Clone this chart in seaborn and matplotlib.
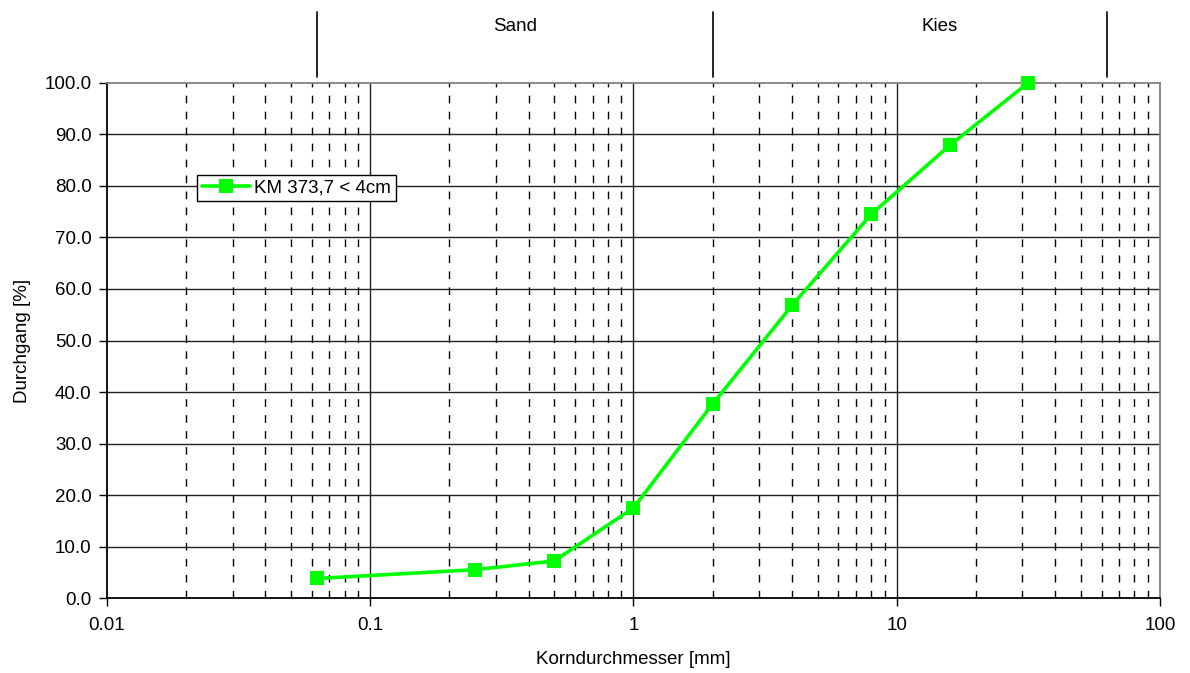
import numpy as np
import pandas as pd
import matplotlib
matplotlib.use("Agg")
import matplotlib.pyplot as plt
import matplotlib.transforms as mtransforms
from matplotlib.ticker import FixedLocator, FuncFormatter, NullLocator
import seaborn as sns

# Data
grain_size = [0.063, 0.25, 0.5, 1.0, 2.0, 4.0, 8.0, 16.0, 31.5]
passing = [3.8, 5.5, 7.2, 17.5, 37.7, 56.8, 74.5, 88.0, 100.0]
series_name = "KM 373,7 < 4cm"
class_bounds = [0.063, 2.0, 63.0]
class_labels = ["Sand", "Kies"]
class_label_x = [0.355, 14.5]
x_ticks = [0.01, 0.1, 1, 10, 100]
x_tick_labels = ["0.01", "0.1", "1", "10", "100"]
y_ticks = [0, 10, 20, 30, 40, 50, 60, 70, 80, 90, 100]

sns.set_style("white")
plt.rcParams['font.family'] = ['Liberation Sans', 'DejaVu Sans']
plt.rcParams['text.color'] = 'black'
plt.rcParams['axes.labelcolor'] = 'black'
plt.rcParams['xtick.color'] = 'black'
plt.rcParams['ytick.color'] = 'black'

FS = 13.5

df = pd.DataFrame({"d": grain_size, "p": passing, "s": series_name})

fig = plt.figure(figsize=(11.9, 6.73), dpi=100)
ax = fig.add_axes([0.0899, 0.1114, 0.8849, 0.7653])

ax.set_xscale("log")
ax.set_xlim(0.01, 100)
ax.set_ylim(0, 100)

# minor dashed grid
minor = [m * 10.0 ** e for e in range(-2, 2) for m in range(2, 10)]
for xv in minor:
    ax.axvline(xv, color="black", lw=1.0, ls=(0, (5.5, 6)), zorder=1)
for xv in [0.1, 1, 10]:
    ax.axvline(xv, color="#202020", lw=1.0, zorder=1)
for yv in y_ticks[1:-1]:
    ax.axhline(yv, color="#202020", lw=1.0, zorder=1)

sns.lineplot(data=df, x="d", y="p", hue="s", palette=["#00FF00"], marker="s",
             markersize=10, markeredgewidth=0, linewidth=2.6, ax=ax, zorder=3,
             estimator=None, sort=False, clip_on=False)

ax.xaxis.set_major_locator(FixedLocator(x_ticks))
ax.xaxis.set_major_formatter(FuncFormatter(lambda v, p: x_tick_labels[x_ticks.index(v)] if v in x_ticks else ""))
ax.xaxis.set_minor_locator(NullLocator())
ax.set_yticks(y_ticks)
ax.set_yticklabels([f"{v:.1f}" for v in y_ticks])
ax.tick_params(axis="both", which="major", direction="out", length=6, width=1,
               color="black", labelsize=FS, pad=5, bottom=True, left=True)
ax.tick_params(axis="x", pad=8)

for side in ["left", "bottom"]:
    ax.spines[side].set_color("black")
    ax.spines[side].set_linewidth(1.3)
for side in ["top", "right"]:
    ax.spines[side].set_color("#808080")
    ax.spines[side].set_linewidth(1.3)

ax.set_xlabel("Korndurchmesser [mm]", fontsize=FS, labelpad=12)
ax.set_ylabel("Durchgang [%]", fontsize=FS, labelpad=10)

# classification lines above plot
trans = mtransforms.blended_transform_factory(ax.transData, ax.transAxes)
for xb in class_bounds:
    ax.plot([xb, xb], [1.012, 1.138], color="black", lw=1.2, transform=trans, clip_on=False)
for lab, xl in zip(class_labels, class_label_x):
    ax.text(xl, 1.11, lab, transform=trans, ha="center", va="center", fontsize=FS)

leg = ax.legend(loc="upper left", bbox_to_anchor=(0.0855, 0.822), frameon=True,
                fancybox=False, framealpha=1, edgecolor="black", fontsize=FS,
                handlelength=2.6, borderpad=0.25, handletextpad=0.2, borderaxespad=0)
leg.get_frame().set_linewidth(1.0)

fig.savefig("out.png", dpi=100)
